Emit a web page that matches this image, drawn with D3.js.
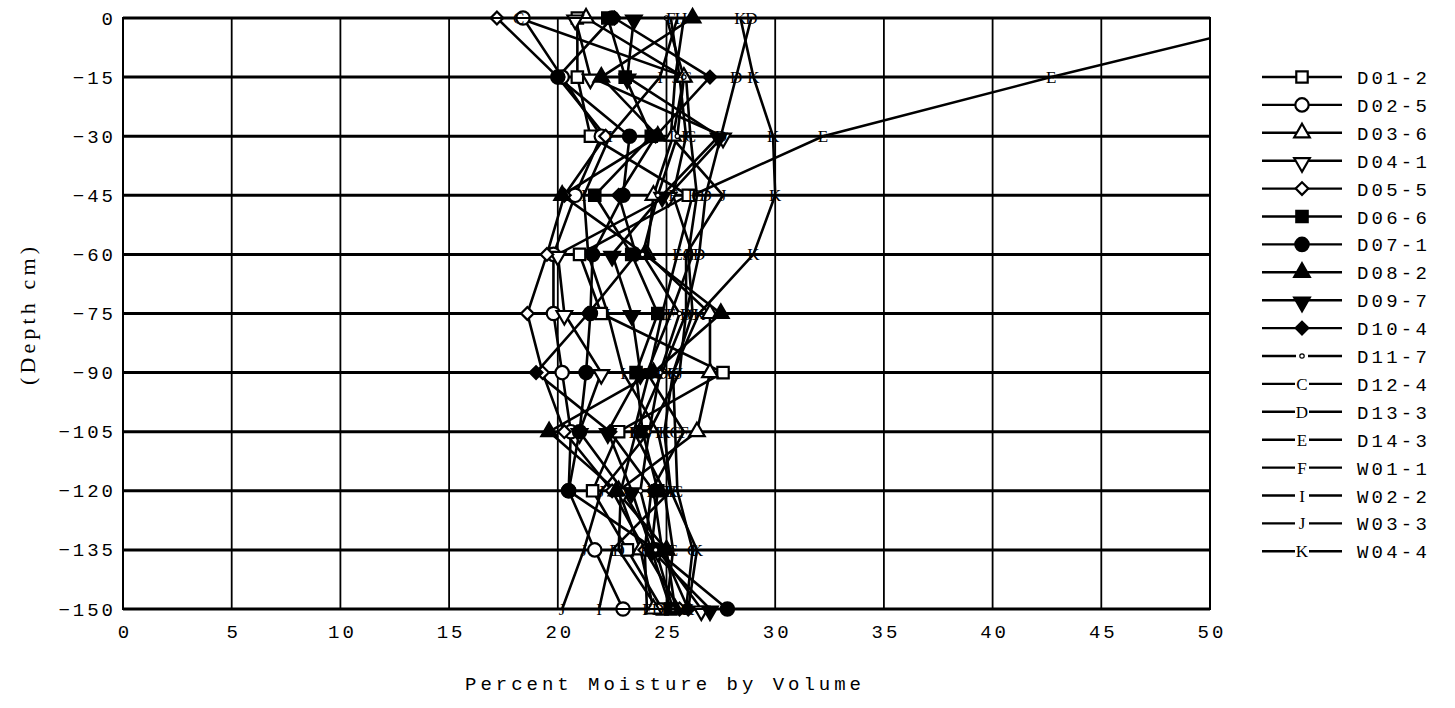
<!DOCTYPE html>
<html>
<head>
<meta charset="utf-8">
<script src="https://cdn.jsdelivr.net/npm/d3@7"></script>
<style>
  body { margin: 0; background: #fff; }
  svg { display: block; }
</style>
</head>
<body>
<svg width="1455" height="708"></svg>
<script>
// moisture profiles, depth vs percent moisture

var depths = [0, -15, -30, -45, -60, -75, -90, -105, -120, -135, -150];
var xTicks = [0, 5, 10, 15, 20, 25, 30, 35, 40, 45, 50];
var yTicks = [0, -15, -30, -45, -60, -75, -90, -105, -120, -135, -150];

var names = ["D01-2", "D02-5", "D03-6", "D04-1", "D05-5", "D06-6", "D07-1", "D08-2", "D09-7",
             "D10-4", "D11-7", "D12-4", "D13-3", "D14-3", "W01-1", "W02-2", "W03-3", "W04-4"];
var markers = ["square", "circle", "triangle", "triangleDown", "diamond", "squareFill", "circleFill",
               "triangleFill", "triangleDownFill", "diamondFill", "dot", "C", "D", "E", "F", "I", "J", "K"];

var D01_2 = [20.9, 20.9, 21.5, 26.0, 21.0, 22.0, 27.6, 22.8, 21.6, 23.2, 24.8];
var D02_5 = [18.4, 20.2, 22.0, 20.8, 19.8, 19.8, 20.2, 20.6, 20.5, 21.7, 23.0];
var D03_6 = [21.3, 25.8, 25.3, 24.4, 24.1, 27.0, 27.0, 26.4, 22.8, 23.8, 24.4];
var D04_1 = [20.8, 21.5, 27.6, 25.1, 20.0, 20.3, 22.0, 21.0, 23.0, 24.6, 26.6];
var D05_5 = [17.2, 20.0, 22.2, 20.3, 19.5, 18.6, 19.3, 20.3, 22.5, 24.0, 25.6];
var D06_6 = [22.3, 23.1, 24.3, 21.7, 23.4, 24.6, 23.6, 23.9, 24.6, 24.3, 25.2];
var D07_1 = [22.5, 20.0, 23.3, 23.0, 21.6, 21.5, 21.3, 21.0, 20.5, 24.5, 27.8];
var D08_2 = [26.2, 22.0, 24.6, 20.2, 24.0, 27.5, 24.4, 19.6, 22.7, 25.0, 25.4];
var D09_7 = [23.5, 23.2, 27.4, 24.8, 22.5, 23.4, 23.8, 22.3, 23.4, 24.3, 27.0];
var D10_4 = [22.6, 27.0, 24.5, 22.8, 23.6, 21.4, 19.0, 22.4, 24.4, 24.8, 26.0];
var D11_7 = [25.0, 25.8, 25.5, 24.6, 23.9, 25.6, 24.7, 24.2, 23.8, 24.5, 25.3];
var D12_4 = [18.2, 25.9, 26.1, 26.4, 26.0, 26.2, 25.3, 25.4, 25.5, 26.2, 25.9];
var D13_3 = [28.9, 28.2, 27.5, 26.8, 26.5, 25.9, 24.8, 23.6, 22.9, 22.8, 24.6];
var D14_3 = [53.8, 42.7, 32.2, 26.2, 25.5, 24.8, 24.2, 23.5, 24.9, 25.3, 25.0];
var W01_1 = [25.2, 25.6, 25.9, 25.3, 26.2, 25.2, 24.1, 25.8, 24.3, 24.0, 24.1];
var W02_2 = [25.5, 24.7, 22.4, 21.2, 21.4, 22.3, 23.0, 24.6, 25.2, 22.5, 21.9];
var W03_3 = [25.8, 25.4, 25.2, 27.6, 25.9, 25.9, 25.6, 24.2, 22.0, 21.2, 20.2];
var W04_4 = [28.4, 29.0, 29.9, 30.0, 29.0, 26.5, 25.3, 24.9, 25.2, 26.4, 26.0];

var values = [D01_2, D02_5, D03_6, D04_1, D05_5, D06_6, D07_1, D08_2, D09_7,
              D10_4, D11_7, D12_4, D13_3, D14_3, W01_1, W02_2, W03_3, W04_4];

var mLeft = 123, mRight = 1210, mTop = 18, mBottom = 609;
var width = mRight - mLeft, height = mBottom - mTop;
var mono = "'Liberation Mono', 'DejaVu Sans Mono', monospace";
var serif = "'Liberation Serif', 'DejaVu Serif', serif";

var svg = d3.select("svg");
var x = d3.scaleLinear().domain([0, 50]).range([0, width]);
var y = d3.scaleLinear().domain([0, -150]).range([0, height]);

var g = svg.append("g").attr("transform", "translate(" + mLeft + "," + mTop + ")");

// clip only at the right edge (line running off past 50)
g.append("clipPath").attr("id", "plot")
  .append("rect").attr("x", -20).attr("y", -20).attr("width", width + 20).attr("height", height + 40);

// grid
g.append("g").selectAll("line").data(xTicks).enter().append("line")
  .attr("x1", function(d) { return x(d); }).attr("x2", function(d) { return x(d); })
  .attr("y1", 0).attr("y2", height)
  .attr("stroke", "#000").attr("stroke-width", 1.8);
g.append("g").selectAll("line").data(yTicks).enter().append("line")
  .attr("x1", 0).attr("x2", width)
  .attr("y1", function(d) { return y(d); }).attr("y2", function(d) { return y(d); })
  .attr("stroke", "#000").attr("stroke-width", 3);

// axes (labels only)
var xAxis = g.append("g").attr("transform", "translate(0," + height + ")")
  .call(d3.axisBottom(x).tickValues(xTicks).tickSize(0).tickPadding(16));
var yAxis = g.append("g")
  .call(d3.axisLeft(y).tickValues(yTicks).tickSize(0).tickPadding(10));
[xAxis, yAxis].forEach(function(a) {
  a.select(".domain").remove();
  a.selectAll("text").attr("font-family", mono).attr("font-size", 19)
    .attr("fill", "#000").attr("letter-spacing", 3);
});
yAxis.selectAll("text").attr("dx", 3);
xAxis.selectAll("text").attr("dx", 1.5);

// lines
var line = d3.line()
  .x(function(d) { return x(d[0]); })
  .y(function(d) { return y(d[1]); });

var series = names.map(function(n, i) {
  return { name: n, marker: markers[i], pts: values[i].map(function(v, j) { return [v, depths[j]]; }) };
});

var plot = g.append("g").attr("clip-path", "url(#plot)");
plot.selectAll("path.ln").data(series).enter().append("path")
  .attr("class", "ln")
  .attr("d", function(d) { return line(d.pts); })
  .attr("fill", "none").attr("stroke", "#000").attr("stroke-width", 2.6);

function drawMarker(sel, type, cx, cy, gap) {
  var filled = /Fill$/.test(type);
  var base = type.replace("Fill", "");
  if (base.length === 1) {
    if (gap) {
      sel.append("rect").attr("x", cx - 7).attr("y", cy - 7).attr("width", 14).attr("height", 14)
        .attr("fill", "#fff");
    }
    sel.append("text").attr("x", cx).attr("y", cy + 6)
      .attr("text-anchor", "middle").attr("font-family", serif)
      .attr("font-size", 17).attr("fill", "#000").text(base);
    return;
  }
  if (base === "dot") {
    if (gap) {
      sel.append("rect").attr("x", cx - 6).attr("y", cy - 4).attr("width", 12).attr("height", 8)
        .attr("fill", "#fff");
    }
    sel.append("circle").attr("cx", cx).attr("cy", cy).attr("r", 2.2)
      .attr("fill", "#fff").attr("stroke", "#000").attr("stroke-width", 1.2);
    return;
  }
  var sym, size, rot = 0;
  if (base === "square") { sym = d3.symbolSquare; size = 130; }
  if (base === "circle") { sym = d3.symbolCircle; size = 140; }
  if (base === "triangle") { sym = d3.symbolTriangle; size = 105; }
  if (base === "triangleDown") { sym = d3.symbolTriangle; size = 105; rot = 180; }
  if (base === "diamond") { sym = d3.symbolSquare; size = 80; rot = 45; }
  sel.append("path")
    .attr("d", d3.symbol().type(sym).size(size)())
    .attr("transform", "translate(" + cx + "," + (cy + (rot === 180 ? 2 : 0)) + ") rotate(" + rot + ")")
    .attr("fill", filled ? "#000" : "#fff")
    .attr("stroke", "#000").attr("stroke-width", 2.2);
}

series.forEach(function(s) {
  var mg = plot.append("g");
  s.pts.forEach(function(p) {
    if (p[0] <= 50) drawMarker(mg, s.marker, x(p[0]), y(p[1]), false);
  });
});

// frame
g.append("rect").attr("width", width).attr("height", height)
  .attr("fill", "none").attr("stroke", "#000").attr("stroke-width", 2);

// axis titles
svg.append("text").attr("x", 663).attr("y", 690)
  .attr("text-anchor", "middle").attr("font-family", mono).attr("font-size", 19)
  .attr("textLength", 396).attr("lengthAdjust", "spacing")
  .text("Percent Moisture by Volume");
svg.append("text").attr("transform", "translate(35,316) rotate(-90)")
  .attr("text-anchor", "middle").attr("font-family", serif).attr("font-size", 22)
  .attr("textLength", 138).attr("lengthAdjust", "spacing")
  .text("(Depth cm)");

// legend
var legTop = 77, legStep = 27.9;
var leg = svg.append("g");
series.forEach(function(s, i) {
  var ly = legTop + i * legStep;
  leg.append("line").attr("x1", 1262).attr("x2", 1342).attr("y1", ly).attr("y2", ly)
    .attr("stroke", "#000").attr("stroke-width", 2.4);
  drawMarker(leg, s.marker, 1302, ly, true);
  leg.append("text").attr("x", 1357).attr("y", ly + 7)
    .attr("font-family", mono).attr("font-size", 19).attr("letter-spacing", 3.2)
    .attr("fill", "#000").text(s.name);
});
</script>
</body>
</html>
